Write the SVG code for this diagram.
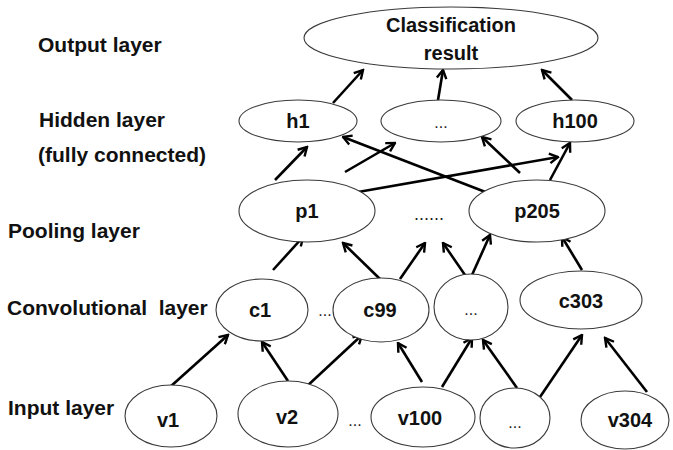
<svg xmlns="http://www.w3.org/2000/svg" width="673" height="450" viewBox="0 0 673 450">
  <style>
    .node { fill: #ffffff; stroke: #3a3a3a; stroke-width: 1.1; }
    .lbl { font-family: "Liberation Sans", Arial, sans-serif; font-weight: bold; font-size: 20px; fill: #111; text-anchor: middle; }
    .layer { font-family: "Liberation Sans", Arial, sans-serif; font-weight: bold; font-size: 21px; fill: #111; }
    .dots { font-family: "Liberation Sans", Arial, sans-serif; font-size: 16px; fill: #222; text-anchor: middle; }
    .edge { stroke: #000; stroke-width: 2.6; fill: none; marker-end: url(#arrow); }
  </style>
  <defs>
    <marker id="arrow" viewBox="0 0 12 12" refX="10.5" refY="6" markerWidth="12" markerHeight="12" markerUnits="userSpaceOnUse" orient="auto">
      <path d="M2,1.2 L10.5,6 L2,10.8" fill="none" stroke="#000" stroke-width="2.4"/>
    </marker>
  </defs>
  <rect width="673" height="450" fill="#ffffff"/>

  <!-- layer captions -->
  <g id="captions">
    <text class="layer" x="38" y="52">Output layer</text>
    <text class="layer" x="39" y="127">Hidden layer</text>
    <text class="layer" x="38" y="162">(fully connected)</text>
    <text class="layer" x="8" y="238">Pooling layer</text>
    <text class="layer" x="7" y="315" xml:space="preserve">Convolutional  layer</text>
    <text class="layer" x="8" y="415">Input layer</text>
  </g>

  <!-- connectors -->
  <g id="connectors">
    <!-- input to convolutional -->
    <line class="edge" x1="170" y1="387" x2="228" y2="335"/>
    <line class="edge" x1="288" y1="381" x2="262" y2="342"/>
    <line class="edge" x1="305" y1="388" x2="362" y2="335"/>
    <line class="edge" x1="422" y1="382" x2="398" y2="343"/>
    <line class="edge" x1="442" y1="387" x2="472" y2="338"/>
    <line class="edge" x1="517" y1="388" x2="483" y2="340"/>
    <line class="edge" x1="540" y1="397" x2="582" y2="335"/>
    <line class="edge" x1="647" y1="392" x2="605" y2="338"/>
    <!-- convolutional to pooling -->
    <line class="edge" x1="273" y1="270" x2="303" y2="237"/>
    <line class="edge" x1="380" y1="279" x2="343" y2="243"/>
    <line class="edge" x1="400" y1="279" x2="425" y2="243"/>
    <line class="edge" x1="465" y1="275" x2="443" y2="243"/>
    <line class="edge" x1="472" y1="275" x2="490" y2="235"/>
    <line class="edge" x1="582" y1="270" x2="562" y2="237"/>
    <!-- pooling to hidden -->
    <line class="edge" x1="275" y1="180" x2="307" y2="147"/>
    <line class="edge" x1="345" y1="172" x2="395" y2="143"/>
    <line class="edge" x1="358" y1="192" x2="558" y2="157"/>
    <line class="edge" x1="488" y1="193" x2="343" y2="137"/>
    <line class="edge" x1="520" y1="173" x2="482" y2="137"/>
    <line class="edge" x1="550" y1="180" x2="570" y2="143"/>
    <!-- hidden to output -->
    <line class="edge" x1="333" y1="103" x2="363" y2="70"/>
    <line class="edge" x1="438" y1="100" x2="443" y2="70"/>
    <line class="edge" x1="572" y1="100" x2="542" y2="70"/>
  </g>

  <!-- output layer -->
  <g id="out">
    <ellipse class="node" cx="451" cy="38" rx="147" ry="31"/>
    <text class="lbl" x="451" y="32">Classification</text>
    <text class="lbl" x="451" y="60">result</text>
  </g>

  <!-- hidden layer -->
  <g id="h1">
    <ellipse class="node" cx="298" cy="121" rx="59" ry="21"/>
    <text class="lbl" x="298" y="128">h1</text>
  </g>
  <g id="hdots">
    <ellipse class="node" cx="441" cy="121" rx="60" ry="21"/>
    <text class="dots" x="441" y="128">...</text>
  </g>
  <g id="h100">
    <ellipse class="node" cx="575" cy="121" rx="59" ry="21"/>
    <text class="lbl" x="575" y="128">h100</text>
  </g>

  <!-- pooling layer -->
  <g id="p1">
    <ellipse class="node" cx="307" cy="211" rx="68" ry="31"/>
    <text class="lbl" x="307" y="218">p1</text>
  </g>
  <g id="pdots">
    <text class="dots" x="429" y="220" style="font-size:18px">......</text>
  </g>
  <g id="p205">
    <ellipse class="node" cx="537" cy="211" rx="68" ry="31"/>
    <text class="lbl" x="537" y="218">p205</text>
  </g>

  <!-- convolutional layer -->
  <g id="c1">
    <ellipse class="node" cx="262" cy="310" rx="46" ry="31"/>
    <text class="lbl" x="260" y="317">c1</text>
  </g>
  <g id="cgap">
    <text class="dots" x="325" y="316">...</text>
  </g>
  <g id="c99">
    <ellipse class="node" cx="381" cy="310" rx="48" ry="32"/>
    <text class="lbl" x="380" y="317">c99</text>
  </g>
  <g id="cdots">
    <ellipse class="node" cx="471" cy="307" rx="37" ry="33"/>
    <text class="dots" x="471" y="315">...</text>
  </g>
  <g id="c303">
    <ellipse class="node" cx="581" cy="300" rx="61" ry="29"/>
    <text class="lbl" x="581" y="308">c303</text>
  </g>

  <!-- input layer -->
  <g id="v1">
    <ellipse class="node" cx="171" cy="416" rx="46" ry="31"/>
    <text class="lbl" x="168" y="427">v1</text>
  </g>
  <g id="v2">
    <ellipse class="node" cx="288" cy="414" rx="50" ry="33"/>
    <text class="lbl" x="287" y="424">v2</text>
  </g>
  <g id="vgap">
    <text class="dots" x="355" y="426">...</text>
  </g>
  <g id="v100">
    <ellipse class="node" cx="423" cy="417" rx="52" ry="30"/>
    <text class="lbl" x="420" y="425">v100</text>
  </g>
  <g id="vdots">
    <ellipse class="node" cx="515" cy="418" rx="35" ry="30"/>
    <text class="dots" x="515" y="428">...</text>
  </g>
  <g id="v304">
    <ellipse class="node" cx="625" cy="420" rx="44" ry="29"/>
    <text class="lbl" x="630" y="427">v304</text>
  </g>
</svg>
